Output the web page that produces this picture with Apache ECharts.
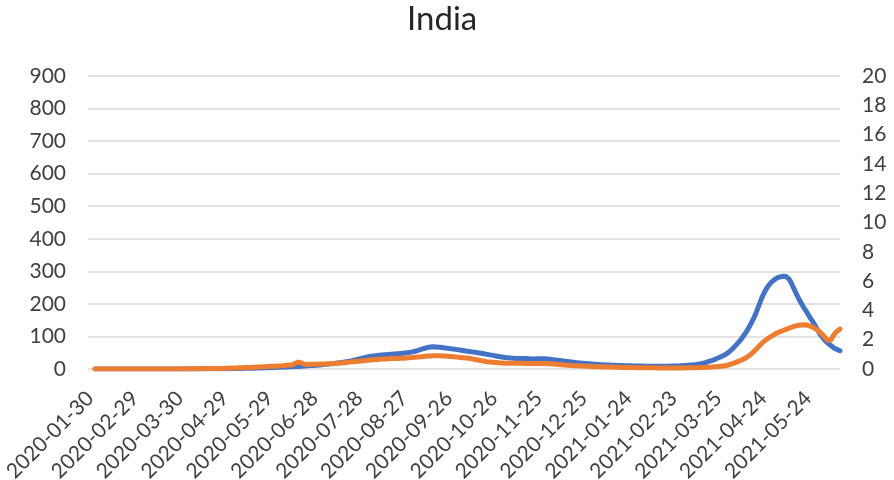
<!DOCTYPE html>
<html>
<head>
<meta charset="utf-8">
<title>India</title>
<script src="https://cdn.jsdelivr.net/npm/echarts@6/dist/echarts.min.js"></script>
<style>
  html, body { margin: 0; padding: 0; background: #ffffff; }
  #chart { width: 894px; height: 480px; }
</style>
</head>
<body>
<div id="chart"></div>
<script>
// Daily series for India, starting 2020-01-30 (one value per day).
const startDate = '2020-01-30';

// Left axis: new cases per million (7-day average)
const casesPerMillion = [
  0,0,0,0,0,0,0,0,0,0,
  0,0,0,0,0,0,0,0,0,0,
  0,0,0,0,0,0,0,0,0,0,
  0,0,0,0,0,0,0,0,0.01,0.01,
  0.01,0.01,0.01,0.01,0.01,0.01,0.01,0.02,0.02,0.02,
  0.03,0.04,0.05,0.05,0.06,0.06,0.07,0.08,0.08,0.09,
  0.1,0.12,0.15,0.19,0.22,0.27,0.3,0.33,0.36,0.38,
  0.4,0.45,0.5,0.54,0.58,0.62,0.66,0.7,0.74,0.78,
  0.82,0.86,0.9,0.94,0.98,1.02,1.06,1.1,1.15,1.2,
  1.25,1.3,1.36,1.42,1.5,1.58,1.66,1.74,1.82,1.9,
  2.0,2.1,2.2,2.3,2.4,2.5,2.6,2.7,2.8,2.95,
  3.1,3.25,3.4,3.55,3.7,3.85,4.0,4.2,4.4,4.6,
  4.8,5.0,5.2,5.4,5.6,5.8,6.0,6.2,6.4,6.6,
  6.8,7.0,7.2,7.4,7.6,7.8,8.0,8.3,8.6,8.9,
  9.2,9.5,9.8,10.1,10.4,10.7,11.0,11.4,11.8,12.2,
  12.6,13.0,13.4,13.8,14.2,14.6,15.0,15.5,16.0,16.5,
  17.0,17.6,18.2,18.8,19.4,20.0,20.7,21.4,22.1,22.8,
  23.6,24.5,25.5,26.6,27.7,28.8,30.0,31.2,32.4,33.6,
  34.8,35.8,36.8,37.7,38.5,39.2,39.9,40.5,41.0,41.5,
  42.0,42.4,42.8,43.2,43.6,44.0,44.4,44.8,45.2,45.6,
  46.0,46.4,46.8,47.2,47.6,48.0,48.5,49.0,49.6,50.2,
  50.8,51.6,52.5,53.5,54.6,55.8,57.1,58.5,60.0,61.5,
  63.0,64.4,65.6,66.6,67.4,67.9,68.1,68.1,67.9,67.5,
  67.0,66.4,65.8,65.2,64.6,64.0,63.4,62.8,62.2,61.6,
  61.0,60.3,59.6,58.9,58.2,57.5,56.8,56.1,55.4,54.7,
  54.0,53.3,52.6,51.9,51.2,50.5,49.8,49.0,48.2,47.4,
  46.6,45.8,45.0,44.2,43.4,42.6,41.8,41.0,40.2,39.4,
  38.6,37.8,37.0,36.3,35.6,35.0,34.5,34.0,33.6,33.3,
  33.0,32.8,32.6,32.4,32.3,32.2,32.1,32.0,32.0,32.0,
  31.8,31.4,31.0,30.8,30.8,31.0,31.3,31.6,31.8,31.9,
  31.8,31.5,31.1,30.6,30.0,29.4,28.8,28.2,27.6,27.0,
  26.4,25.8,25.2,24.6,24.0,23.4,22.8,22.2,21.6,21.1,
  20.6,20.1,19.6,19.1,18.6,18.1,17.6,17.2,16.8,16.4,
  16.0,15.6,15.2,14.8,14.5,14.2,13.9,13.6,13.3,13.0,
  12.8,12.6,12.4,12.2,12.0,11.8,11.6,11.4,11.2,11.0,
  10.8,10.6,10.4,10.3,10.2,10.1,10.0,9.9,9.8,9.7,
  9.6,9.5,9.4,9.3,9.2,9.1,9.0,8.9,8.8,8.7,
  8.6,8.5,8.4,8.3,8.2,8.1,8.1,8.1,8.1,8.2,
  8.3,8.4,8.5,8.6,8.7,8.8,8.9,9.0,9.2,9.4,
  9.6,9.9,10.2,10.5,10.8,11.1,11.4,11.7,12.0,12.4,
  12.8,13.3,13.9,14.6,15.4,16.3,17.3,18.4,19.6,20.9,
  22.3,23.8,25.4,27.1,28.9,30.8,32.8,34.9,37.0,39.0,
  41.0,43.5,46.0,49.0,53.0,57.0,61.5,66.0,71.0,76.0,
  81,86,92,98,105,112,119,127,135,144,
  153,163,174,186,198,210,221,231,240,248,
  255,261,266,270,274,277,280,282,283,284,
  285,285,284,281,276,268,259,249,239,229,
  220,211,203,195,187,180,173,165,158,151,
  144,136,128,120,112,105,99,93,88,83,
  79,75,71,68,65,62,60,58,56
];

// Right axis: new deaths per million (7-day average)
const deathsPerMillion = [
  0,0,0,0,0,0,0,0,0,0,
  0,0,0,0,0,0,0,0,0,0,
  0,0,0,0,0,0,0,0,0,0,
  0,0,0,0,0,0,0,0,0,0,
  0,0,0,0,0,0,0,0,0,0,
  0,0,0,0,0,0,0,0,0,0.01,
  0.01,0.01,0.01,0.01,0.01,0.01,0.02,0.02,0.02,0.02,
  0.02,0.02,0.02,0.02,0.03,0.03,0.03,0.03,0.03,0.03,
  0.03,0.03,0.03,0.04,0.04,0.04,0.04,0.04,0.05,0.05,
  0.06,0.06,0.07,0.07,0.07,0.08,0.08,0.08,0.09,0.09,
  0.1,0.1,0.1,0.11,0.11,0.12,0.12,0.12,0.13,0.13,
  0.14,0.14,0.15,0.15,0.16,0.16,0.17,0.17,0.18,0.18,
  0.19,0.19,0.2,0.2,0.21,0.22,0.23,0.24,0.25,0.26,
  0.27,0.28,0.29,0.33,0.40,0.45,0.47,0.46,0.42,0.36,
  0.32,0.31,0.31,0.31,0.32,0.32,0.32,0.33,0.33,0.33,
  0.34,0.34,0.34,0.35,0.35,0.35,0.36,0.36,0.37,0.37,
  0.38,0.38,0.39,0.40,0.41,0.42,0.43,0.44,0.45,0.46,
  0.47,0.48,0.49,0.50,0.51,0.52,0.53,0.54,0.55,0.56,
  0.57,0.58,0.59,0.60,0.61,0.62,0.63,0.64,0.65,0.66,
  0.67,0.68,0.68,0.69,0.69,0.70,0.70,0.70,0.71,0.71,
  0.71,0.72,0.72,0.72,0.73,0.73,0.74,0.74,0.75,0.75,
  0.76,0.77,0.78,0.79,0.80,0.81,0.82,0.83,0.84,0.85,
  0.86,0.87,0.88,0.88,0.89,0.89,0.90,0.90,0.90,0.90,
  0.90,0.90,0.89,0.89,0.88,0.88,0.87,0.86,0.85,0.84,
  0.83,0.82,0.81,0.80,0.79,0.78,0.77,0.76,0.75,0.74,
  0.73,0.71,0.69,0.67,0.65,0.63,0.61,0.59,0.57,0.55,
  0.53,0.51,0.50,0.49,0.48,0.47,0.46,0.45,0.44,0.43,
  0.42,0.41,0.41,0.40,0.40,0.40,0.40,0.40,0.40,0.40,
  0.40,0.40,0.40,0.40,0.39,0.39,0.39,0.38,0.38,0.38,
  0.37,0.37,0.37,0.37,0.37,0.37,0.38,0.38,0.38,0.38,
  0.38,0.37,0.37,0.36,0.36,0.35,0.35,0.34,0.33,0.32,
  0.31,0.30,0.29,0.28,0.27,0.27,0.26,0.25,0.24,0.24,
  0.23,0.22,0.22,0.21,0.21,0.20,0.20,0.19,0.19,0.18,
  0.18,0.17,0.17,0.17,0.16,0.16,0.16,0.15,0.15,0.15,
  0.14,0.14,0.14,0.13,0.13,0.13,0.13,0.12,0.12,0.12,
  0.12,0.11,0.11,0.11,0.11,0.11,0.10,0.10,0.10,0.10,
  0.10,0.10,0.09,0.09,0.09,0.09,0.09,0.09,0.08,0.08,
  0.08,0.08,0.08,0.08,0.08,0.07,0.07,0.07,0.07,0.07,
  0.07,0.07,0.07,0.07,0.07,0.07,0.07,0.07,0.07,0.07,
  0.07,0.07,0.07,0.07,0.07,0.08,0.08,0.08,0.08,0.08,
  0.08,0.09,0.09,0.09,0.10,0.10,0.10,0.11,0.11,0.12,
  0.12,0.13,0.13,0.14,0.15,0.15,0.16,0.17,0.18,0.19,
  0.20,0.22,0.24,0.27,0.30,0.33,0.36,0.40,0.44,0.48,
  0.52,0.56,0.60,0.65,0.70,0.76,0.82,0.89,0.97,1.06,
  1.15,1.25,1.35,1.46,1.57,1.68,1.78,1.87,1.95,2.03,
  2.10,2.17,2.23,2.29,2.35,2.41,2.46,2.51,2.55,2.59,
  2.63,2.67,2.71,2.75,2.79,2.83,2.87,2.90,2.93,2.96,
  2.98,3.00,3.01,3.02,3.02,3.01,3.00,2.97,2.93,2.88,
  2.84,2.78,2.72,2.65,2.57,2.48,2.38,2.27,2.15,2.04,
  1.95,1.88,2.00,2.18,2.35,2.48,2.58,2.66,2.72
];

// Axis ranges and tick steps
const leftMax = 900, leftStep = 100;
const rightMax = 20, rightStep = 2;
const labelEveryDays = 30;

// Build the date list (YYYY-MM-DD) for each day of the series
function buildDates(start, count) {
  const out = [];
  const t0 = Date.UTC(+start.slice(0, 4), +start.slice(5, 7) - 1, +start.slice(8, 10));
  for (let i = 0; i < count; i++) {
    out.push(new Date(t0 + i * 86400000).toISOString().slice(0, 10));
  }
  return out;
}
const dayCount = Math.max(casesPerMillion.length, deathsPerMillion.length);
const dates = buildDates(startDate, dayCount);
const labelDays = [];
for (let i = 0; i < dayCount; i += labelEveryDays) labelDays.push(i);

const cases = casesPerMillion.map((v, i) => [i, v]);
const deaths = deathsPerMillion.map((v, i) => [i, v]);

const font = 'Lato, "Open Sans", sans-serif';
const textColor = '#404040';

const chart = echarts.init(document.getElementById('chart'), null, { renderer: 'canvas' });
chart.setOption({
  animation: false,
  backgroundColor: '#ffffff',
  title: {
    text: 'India',
    left: 402,
    top: -2,
    textStyle: { fontFamily: font, fontSize: 33, fontWeight: 'normal', color: '#262626' }
  },
  grid: {
    left: 88, right: 54, top: 76, bottom: 111,
    containLabel: false,
    outerBoundsMode: 'none'
  },
  xAxis: {
    type: 'value',
    min: -4.7,
    max: dayCount - 1,
    axisLine: { show: false },
    axisTick: { show: false },
    splitLine: { show: false },
    axisLabel: {
      customValues: labelDays,
      rotate: 45,
      margin: 21,
      padding: [0, 7, 0, 0],
      fontFamily: font,
      fontSize: 21,
      color: textColor,
      formatter: (v) => dates[Math.round(v)] || ''
    }
  },
  yAxis: [
    {
      type: 'value',
      min: 0,
      max: leftMax,
      interval: leftStep,
      axisLine: { show: false },
      axisTick: { show: false },
      splitLine: { show: true, lineStyle: { color: '#d9d9d9', width: 1.5 } },
      axisLabel: { margin: 22, fontFamily: font, fontSize: 21, color: textColor }
    },
    {
      type: 'value',
      min: 0,
      max: rightMax,
      interval: rightStep,
      position: 'right',
      axisLine: { show: false },
      axisTick: { show: false },
      splitLine: { show: false },
      axisLabel: { margin: 22, fontFamily: font, fontSize: 21, color: textColor }
    }
  ],
  series: [
    {
      name: 'Cases per million',
      type: 'line',
      yAxisIndex: 0,
      data: cases,
      showSymbol: false,
      symbol: 'none',
      lineStyle: { color: '#4472C4', width: 5, cap: 'round', join: 'round' },
      z: 2
    },
    {
      name: 'Deaths per million',
      type: 'line',
      yAxisIndex: 1,
      data: deaths,
      showSymbol: false,
      symbol: 'none',
      lineStyle: { color: '#ED7D31', width: 5, cap: 'round', join: 'round' },
      z: 3
    }
  ]
});
</script>
</body>
</html>
